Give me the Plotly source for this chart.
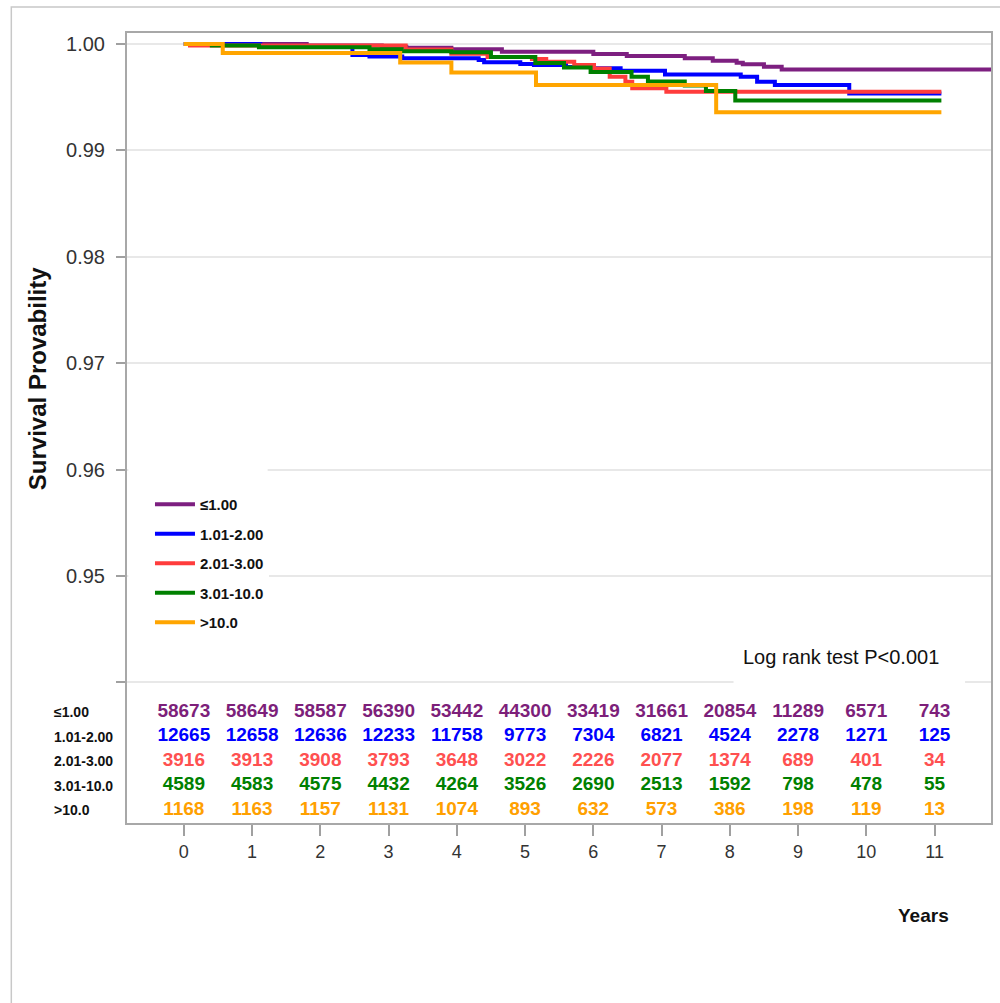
import plotly.graph_objects as go

# Groups and styling
groups = ["≤1.00", "1.01-2.00", "2.01-3.00", "3.01-10.0", ">10.0"]
line_colors = ["#7d1f80", "#0000ff", "#ff3c3c", "#008000", "#ffa500"]
count_colors = ["#7d1f7a", "#0000ff", "#ff5050", "#008000", "#ffa000"]

# Kaplan-Meier step points: time (years) and survival probability
t_g1 = [0, 1.8, 2.9, 3.26, 3.92, 4.66, 6.00, 6.49, 7.34, 7.75, 8.10, 8.19, 8.50, 8.76, 12.0]
s_g1 = [1.0, 0.99986, 0.99975, 0.99965, 0.99950, 0.99928, 0.99906, 0.99887, 0.99866,
        0.99843, 0.99824, 0.99809, 0.99787, 0.99760, 0.99760]

t_g2 = [0, 1.12, 2.47, 2.72, 3.20, 4.32, 4.40, 4.93, 5.13, 5.60, 6.00, 6.40, 7.05,
        8.16, 8.40, 8.66, 9.75, 11.10]
s_g2 = [1.0, 0.99977, 0.99897, 0.99883, 0.99866, 0.99850, 0.99828, 0.99812, 0.99803,
        0.99784, 0.99772, 0.99749, 0.99713, 0.99693, 0.99646, 0.99615, 0.99535, 0.99535]

t_g3 = [0, 0.09, 3.25, 3.92, 4.45, 5.10, 5.31, 5.72, 6.01, 6.24, 6.47, 6.57, 7.07, 11.10]
s_g3 = [1.0, 0.99986, 0.99948, 0.99908, 0.99878, 0.99859, 0.99833, 0.99803, 0.99770,
        0.99693, 0.99646, 0.99584, 0.99552, 0.99552]

t_g4 = [0, 0.41, 1.10, 2.72, 3.19, 3.92, 4.50, 5.15, 5.57, 5.96, 6.56, 6.80, 7.34,
        7.65, 8.08, 11.10]
s_g4 = [1.0, 0.99986, 0.99970, 0.99950, 0.99931, 0.99922, 0.99878, 0.99821, 0.99779,
        0.99737, 0.99692, 0.99647, 0.99610, 0.99558, 0.99469, 0.99469]

t_g5 = [0, 0.57, 3.17, 3.92, 5.16, 7.80, 11.10]
s_g5 = [1.0, 0.99915, 0.99826, 0.99732, 0.99615, 0.99358, 0.99358]

# Number at risk by year
risk_years = list(range(0, 12))
risk_g1 = [58673, 58649, 58587, 56390, 53442, 44300, 33419, 31661, 20854, 11289, 6571, 743]
risk_g2 = [12665, 12658, 12636, 12233, 11758, 9773, 7304, 6821, 4524, 2278, 1271, 125]
risk_g3 = [3916, 3913, 3908, 3793, 3648, 3022, 2226, 2077, 1374, 689, 401, 34]
risk_g4 = [4589, 4583, 4575, 4432, 4264, 3526, 2690, 2513, 1592, 798, 478, 55]
risk_g5 = [1168, 1163, 1157, 1131, 1074, 893, 632, 573, 386, 198, 119, 13]

y_tickvals = [0.94, 0.95, 0.96, 0.97, 0.98, 0.99, 1.00]
y_ticktext = ["", "0.95", "0.96", "0.97", "0.98", "0.99", "1.00"]

SANS = "Liberation Sans, Arial, sans-serif"

curves = [(t_g1, s_g1), (t_g2, s_g2), (t_g3, s_g3), (t_g4, s_g4), (t_g5, s_g5)]
risks = [risk_g1, risk_g2, risk_g3, risk_g4, risk_g5]

fig = go.Figure()

for i, (name, (t, s)) in enumerate(zip(groups, curves)):
    fig.add_trace(go.Scatter(
        x=t, y=s, mode="lines", name=name,
        line=dict(color=line_colors[i], width=4, shape="hv"),
        legendgroup=f"g{i}",
        hoverinfo="skip",
    ))

# Number-at-risk table drawn inside the frame on an overlay axis (row index)
for i, counts in enumerate(risks):
    fig.add_trace(go.Scatter(
        x=risk_years, y=[i] * len(counts), yaxis="y2", mode="text",
        text=[str(c) for c in counts],
        textfont=dict(family=SANS, size=19, color=count_colors[i], weight="bold"),
        showlegend=False, hoverinfo="skip", cliponaxis=False,
    ))

annotations = []
for i, name in enumerate(groups):
    annotations.append(dict(
        x=-0.0866, xref="paper", y=i, yref="y2", xanchor="left", yanchor="middle",
        text=f"<b>{name}</b>", showarrow=False,
        font=dict(family=SANS, size=14, color="#111111"),
    ))

annotations += [
    dict(x=-0.104, xref="paper", y=0.562, yref="paper", text="<b>Survival Provability</b>",
         textangle=-90, showarrow=False, xanchor="center", yanchor="middle",
         font=dict(family=SANS, size=24, color="#111111")),
    dict(x=0.8268, xref="paper", y=0.2101, yref="paper", text="Log rank test P<0.001",
         showarrow=False, xanchor="center", yanchor="middle",
         font=dict(family=SANS, size=20, color="#111111")),
    dict(x=0.9215, xref="paper", y=-0.117, yref="paper", text="<b>Years</b>",
         showarrow=False, xanchor="center", yanchor="middle",
         font=dict(family=SANS, size=19, color="#111111")),
]

shapes = [
    # white patches behind the legend and the test annotation
    dict(type="rect", xref="paper", yref="paper", x0=0.0015, x1=0.1628, y0=0.2253, y1=0.457,
         fillcolor="white", line=dict(width=0), layer="above"),
    dict(type="rect", xref="paper", yref="paper", x0=0.702, x1=0.970, y0=0.166, y1=0.2316,
         fillcolor="white", line=dict(width=0), layer="above"),
    # outer figure border
    dict(type="rect", xref="paper", yref="paper", x0=-0.1339, x1=1.02, y0=-0.25, y1=1.0329,
         fillcolor="rgba(0,0,0,0)", line=dict(color="#c8c8c8", width=1.5), layer="above"),
]

fig.update_layout(
    width=1000, height=1003,
    margin=dict(l=127, r=7, t=33, b=180),
    paper_bgcolor="white", plot_bgcolor="white",
    showlegend=True,
    legend=dict(x=0.0266, y=0.424, xanchor="left", yanchor="top",
                bgcolor="white", tracegroupgap=7, itemwidth=40,
                font=dict(family=SANS, size=15, color="#111111", weight="bold")),
    xaxis=dict(range=[-0.833, 11.827], tickvals=risk_years, ticks="outside", ticklen=11,
               tickcolor="#a0a0a0", tickwidth=1.5, showgrid=False, zeroline=False,
               showline=True, mirror=True, linecolor="#a8a8a8", linewidth=2,
               tickfont=dict(family=SANS, size=18, color="#333333")),
    yaxis=dict(range=[0.926786, 1.001034], tickvals=y_tickvals, ticktext=y_ticktext,
               ticks="outside", ticklen=9, tickcolor="#a0a0a0", tickwidth=1.5,
               showgrid=True, gridcolor="#e8e8e8", gridwidth=1.5, zeroline=False,
               showline=True, mirror=True, linecolor="#a8a8a8", linewidth=2,
               ticklabelstandoff=7,
               tickfont=dict(family=SANS, size=20, color="#333333")),
    yaxis2=dict(overlaying="y", range=[4.53, -27.71], visible=False),
    annotations=annotations,
    shapes=shapes,
)

fig.write_html("out.html")
